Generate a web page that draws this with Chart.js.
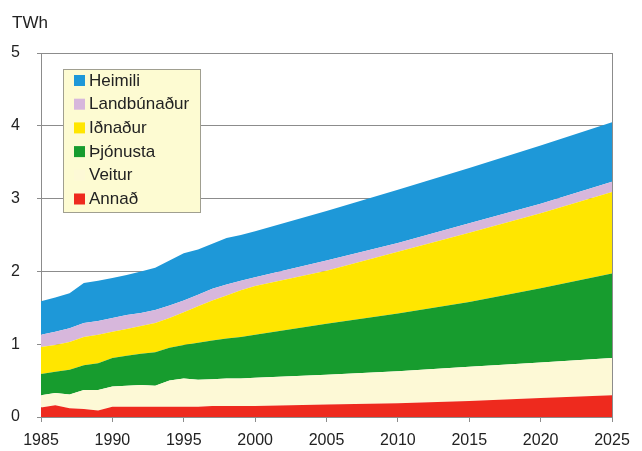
<!DOCTYPE html>
<html><head><meta charset="utf-8">
<script src="https://cdn.jsdelivr.net/npm/chart.js@4.4.0/dist/chart.umd.min.js"></script>
<style>html,body{margin:0;padding:0;background:#fff;}</style>
</head><body>
<canvas id="c" width="642" height="451"></canvas>
<script>
// Years (x values)
const years = [1985,1986,1987,1988,1989,1990,1991,1992,1993,1994,1995,1996,1997,1998,1999,2000,2005,2010,2015,2020,2025];
// Series values (TWh), stacked bottom to top
const annad      = [0.13,0.16,0.12,0.11,0.09,0.14,0.14,0.14,0.14,0.14,0.14,0.14,0.15,0.15,0.15,0.15,0.17,0.19,0.22,0.26,0.30];
const veitur     = [0.17,0.17,0.19,0.26,0.28,0.28,0.29,0.30,0.29,0.36,0.39,0.37,0.37,0.38,0.38,0.39,0.41,0.44,0.47,0.49,0.51];
const thjonusta  = [0.29,0.29,0.34,0.34,0.37,0.39,0.41,0.43,0.46,0.45,0.46,0.51,0.53,0.55,0.57,0.59,0.70,0.79,0.89,1.02,1.16];
const idnadur    = [0.37,0.37,0.38,0.39,0.39,0.36,0.37,0.38,0.40,0.41,0.45,0.50,0.55,0.59,0.64,0.67,0.73,0.85,0.95,1.03,1.12];
const landbunadur= [0.17,0.18,0.19,0.19,0.19,0.19,0.19,0.18,0.18,0.17,0.16,0.16,0.16,0.15,0.13,0.12,0.14,0.12,0.13,0.13,0.14];
const heimili    = [0.46,0.47,0.48,0.55,0.55,0.55,0.55,0.57,0.58,0.62,0.65,0.62,0.62,0.64,0.63,0.63,0.68,0.73,0.76,0.80,0.82];
// Tick labels
const yTicks = [0,1,2,3,4,5];
const xTicks = [1985,1990,1995,2000,2005,2010,2015,2020,2025];
const unitLabel = 'TWh';

const seriesDefs = [
  {label:'Annað', data:annad, color:'#ee2a1e'},
  {label:'Veitur', data:veitur, color:'#fdf9d6'},
  {label:'Þjónusta', data:thjonusta, color:'#179c2e'},
  {label:'Iðnaður', data:idnadur, color:'#ffe600'},
  {label:'Landbúnaður', data:landbunadur, color:'#d7b7dc'},
  {label:'Heimili', data:heimili, color:'#1e98d8'}
];

const FONT = '"Liberation Sans", Arial, Helvetica, sans-serif';

const datasets = seriesDefs.map((s,i)=>({
  label:s.label,
  data:years.map((y,k)=>({x:y,y:s.data[k]})),
  backgroundColor:s.color,
  borderWidth:0,
  borderColor:s.color,
  pointRadius:0,
  tension:0,
  fill: i===0 ? 'origin' : '-1'
}));

const decor = {
  id:'decor',
  beforeDatasetsDraw(chart){
    const ctx = chart.ctx, a = chart.chartArea;
    ctx.save();
    ctx.strokeStyle = '#8c8c8c'; ctx.lineWidth = 1;
    ctx.beginPath(); ctx.moveTo(Math.round(a.right)+0.5, a.top); ctx.lineTo(Math.round(a.right)+0.5, a.bottom); ctx.stroke();
    ctx.restore();
  },
  afterDraw(chart){
    const ctx = chart.ctx, a = chart.chartArea;
    ctx.save();
    // unit label
    ctx.fillStyle = '#222'; ctx.font = '17px ' + FONT; ctx.textBaseline = 'alphabetic'; ctx.textAlign='left';
    ctx.fillText(unitLabel, 12, 28);
    // legend box
    const bx = a.left + 22, by = a.top + 16, bw = 137, bh = 143;
    ctx.fillStyle = '#fdfbd2'; ctx.fillRect(bx, by, bw, bh);
    ctx.strokeStyle = '#a09f90'; ctx.lineWidth = 1;
    ctx.strokeRect(bx+0.5, by+0.5, bw, bh);
    const items = chart.data.datasets.slice().reverse();
    ctx.font = '17px ' + FONT; ctx.textBaseline = 'middle';
    items.forEach((d,i)=>{
      const cy = by + 11 + i*23.7;
      ctx.fillStyle = d.backgroundColor;
      ctx.fillRect(bx + 11, cy - 5, 11, 11);
      ctx.fillStyle = '#222';
      ctx.fillText(d.label, bx + 26, cy + 1);
    });
    ctx.restore();
  }
};

new Chart(document.getElementById('c'), {
  type:'line',
  data:{datasets},
  options:{
    responsive:false,
    animation:false,
    devicePixelRatio:1,
    layout:{padding:{left:0,right:30,top:53,bottom:0}},
    plugins:{legend:{display:false}, tooltip:{enabled:false}},
    scales:{
      x:{
        type:'linear', min:xTicks[0], max:xTicks[xTicks.length-1],
        afterBuildTicks(scale){ scale.ticks = xTicks.map(v=>({value:v})); },
        afterFit(scale){ scale.height = 34; },
        ticks:{callback:v=>String(v), color:'#222', font:{family:FONT, size:16}, padding:9, maxRotation:0, autoSkip:false},
        grid:{drawOnChartArea:false, tickLength:5, color:'#8c8c8c'},
        border:{color:'#8c8c8c', z:1}
      },
      y:{
        stacked:true, min:yTicks[0], max:yTicks[yTicks.length-1],
        afterBuildTicks(scale){ scale.ticks = yTicks.map(v=>({value:v})); },
        afterFit(scale){ scale.width = 41; },
        ticks:{color:'#222', font:{family:FONT, size:16}, padding:17},
        grid:{color:'#8c8c8c', tickLength:4},
        border:{color:'#8c8c8c'}
      }
    }
  },
  plugins:[decor]
});
</script>
</body></html>
